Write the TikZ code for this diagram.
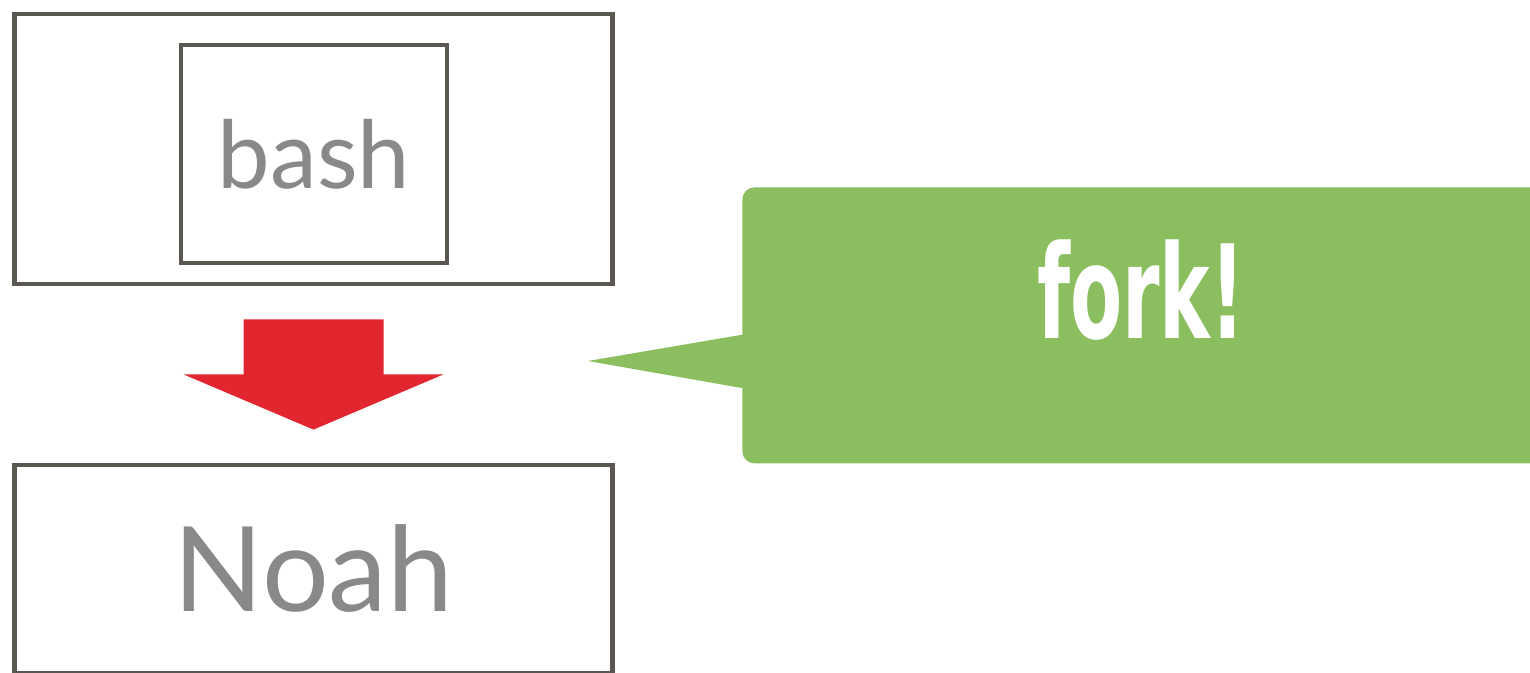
\documentclass[tikz,border=0pt]{standalone}
\usepackage{fontspec}
\newfontfamily\labelfont{Lato}
\newfontfamily\shoutfont{DejaVu Sans Condensed}
\usetikzlibrary{positioning,calc}
\definecolor{framegray}{HTML}{5A5652}
\definecolor{textgray}{HTML}{878A89}
\definecolor{forkred}{HTML}{E2262F}
\definecolor{forkgreen}{HTML}{8BBE5F}

\begin{document}
\begin{tikzpicture}[
  x=0.5pt, y=-0.5pt,
  frame/.style={rectangle, draw=framegray, line width=2.4pt, inner sep=0pt,
               text=textgray},
  shout/.style={text=white, inner sep=0pt,
               font=\shoutfont\bfseries\fontsize{65}{65}\selectfont},
]
\useasboundingbox (0,0) rectangle (1530,673);
\clip (0,0) rectangle (1530,673);

% Parent process with its shell
\node[frame, minimum width=299pt, minimum height=135pt] (parent) at (313.5,149) {};
\node[frame, minimum width=133pt, minimum height=109pt,
      font=\labelfont\fontsize{47}{47}\selectfont] (shell) at (314,154) {bash};

% Child process
\node[frame, minimum width=299pt, minimum height=104pt,
      font=\labelfont\fontsize{59}{59}\selectfont] (child) at (313.5,569) {Noah};

% Block arrow parent -> child
\fill[forkred] ($(parent.south)+(-70,33)$) -- ($(parent.south)+(70,33)$)
  -- ($(parent.south)+(70,88)$) -- ($(parent.south)+(130,88)$)
  -- ($(child.north)+(0,-33)$)
  -- ($(parent.south)+(-130,88)$) -- ($(parent.south)+(-70,88)$) -- cycle;

% Callout
\node[fill=forkgreen, rounded corners=6pt, inner sep=0pt, anchor=north west,
      minimum width=420pt, minimum height=138pt] (bubble) at (742,187) {};
\coordinate (tip) at (588,361);
\fill[forkgreen] ($(bubble.west)+(2,9)$) -- (tip) -- ($(bubble.west)+(2,63)$) -- cycle;
\node[shout] (fork) at (1141,290) {\scalebox{0.65}[1]{fork!}};

\end{tikzpicture}
\end{document}
